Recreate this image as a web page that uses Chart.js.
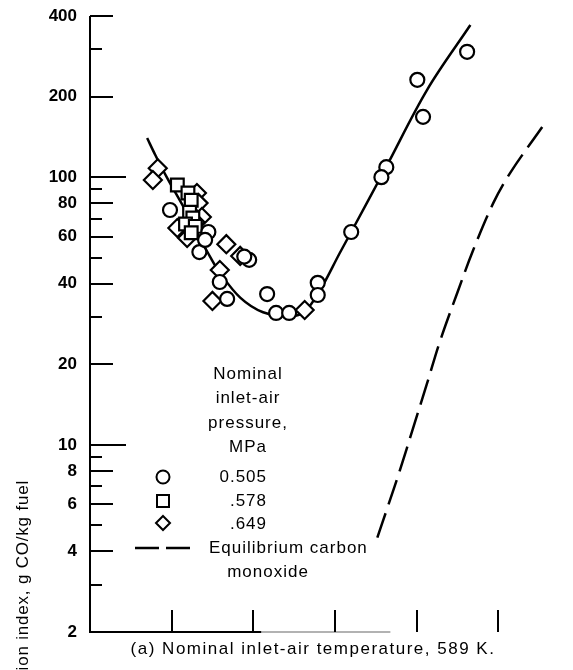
<!DOCTYPE html>
<html>
<head>
<meta charset="utf-8">
<script src="https://cdn.jsdelivr.net/npm/chart.js@4/dist/chart.umd.min.js"></script>
<style>
html, body { margin: 0; padding: 0; background: #fff; }
</style>
</head>
<body>
<canvas id="coChart" width="573" height="670"></canvas>
<script>
// CO emission index, nominal inlet-air temperature 589 K (x axis is unlabelled, tick units)
const p505X = [4.62, 4.01, 4.08, 3.63, 3.57, 3.20, 2.79, 2.79, 2.17, 2.28, 2.44, 1.68, 1.59, 1.95, 1.89, 1.34, 1.45, 1.41, 0.98];
const p505Y = [294, 231, 168, 109, 100, 62.4, 40.3, 36.3, 36.6, 31.1, 31.1, 35.1, 40.6, 49.1, 50.5, 52.5, 62.4, 58.3, 75.4];

const p578X = [1.07, 1.20, 1.24, 1.22, 1.26, 1.17, 1.29, 1.24];
const p578Y = [93.5, 87.3, 82, 74, 70.4, 66.8, 65.5, 62];

const p649X = [0.83, 0.77, 1.31, 1.33, 1.37, 1.29, 1.07, 1.19, 1.67, 1.84, 1.59, 1.50, 2.63];
const p649Y = [108, 97.6, 87.3, 80, 71, 68, 64.6, 59.3, 56.2, 50.8, 45, 34.5, 31.9];

// faired curve through the data
const fitX = [0.70, 0.80, 0.94, 1.16, 1.35, 1.47, 1.59, 1.84, 2.12, 2.45, 2.63, 2.82, 3.06, 3.20, 3.62, 4.13, 4.66];
const fitY = [140, 121, 100, 76, 59, 50.5, 44, 35.5, 31.3, 30.2, 31.5, 37.9, 52.1, 62.4, 108, 212, 370];

// equilibrium carbon monoxide
const eqX = [3.52, 3.65, 3.80, 3.96, 4.13, 4.29, 4.50, 4.69, 4.94, 5.15, 5.54];
const eqY = [4.5, 5.9, 8.1, 11.6, 17, 24.5, 37, 53, 80, 104, 154];

const xTicks = [1, 2, 3, 4, 5];
const yLabels = [2, 4, 6, 8, 10, 20, 40, 60, 80, 100, 200, 400];
const yMinor = [3, 5, 7, 9, 30, 50, 70, 90, 300];

const pts = (xs, ys) => xs.map((x, i) => ({x: x, y: ys[i]}));
const TXT = '17px "Liberation Sans", Arial, sans-serif';

const frame = {
  id: 'frame',
  afterDraw(chart) {
    const {ctx, chartArea: a, scales: {x, y}} = chart;
    ctx.save();
    ctx.strokeStyle = '#000';
    ctx.lineWidth = 2;
    ctx.beginPath();
    ctx.moveTo(a.left, a.top);
    ctx.lineTo(a.left, a.bottom + 1);
    ctx.stroke();

    // inward y ticks
    y.ticks.forEach(t => {
      const py = Math.round(y.getPixelForValue(t.value));
      let len = yLabels.includes(t.value) ? 23 : 12;
      if (t.value === 10 || t.value === 100) len = 36;
      ctx.beginPath();
      ctx.moveTo(a.left, py);
      ctx.lineTo(a.left + len, py);
      ctx.stroke();
    });

    // x axis, faded in the right part as in the scan
    ctx.beginPath();
    ctx.moveTo(a.left, a.bottom);
    ctx.lineTo(x.getPixelForValue(2.1), a.bottom);
    ctx.stroke();
    ctx.strokeStyle = '#999';
    ctx.lineWidth = 1.5;
    ctx.beginPath();
    ctx.moveTo(x.getPixelForValue(2.1), a.bottom);
    ctx.lineTo(x.getPixelForValue(3.68), a.bottom);
    ctx.stroke();
    ctx.strokeStyle = '#000';
    ctx.lineWidth = 2;
    xTicks.forEach(v => {
      const px = Math.round(x.getPixelForValue(v));
      ctx.beginPath();
      ctx.moveTo(px, a.bottom);
      ctx.lineTo(px, a.bottom - 22);
      ctx.stroke();
    });

    // key
    ctx.fillStyle = '#000';
    ctx.font = TXT;
    ctx.letterSpacing = '1px';
    ctx.textBaseline = 'middle';
    ctx.textAlign = 'center';
    ['Nominal', 'inlet-air', 'pressure,', 'MPa'].forEach((s, i) => ctx.fillText(s, 248, 374 + i * 24.5));
    ctx.textAlign = 'right';
    ctx.fillText('0.505', 267, 477);
    ctx.fillText('.578', 267, 501);
    ctx.fillText('.649', 267, 524);
    ctx.textAlign = 'left';
    ctx.fillText('Equilibrium carbon', 209, 548);
    ctx.textAlign = 'center';
    ctx.fillText('monoxide', 268, 572);

    ctx.lineWidth = 2;
    ctx.fillStyle = '#fff';
    ctx.beginPath();
    ctx.arc(163, 477, 6.5, 0, Math.PI * 2);
    ctx.fill(); ctx.stroke();
    ctx.beginPath();
    ctx.rect(157, 495, 12, 12);
    ctx.fill(); ctx.stroke();
    ctx.beginPath();
    ctx.moveTo(163, 516); ctx.lineTo(170, 523); ctx.lineTo(163, 530); ctx.lineTo(156, 523); ctx.closePath();
    ctx.fill(); ctx.stroke();
    ctx.lineWidth = 2.5;
    ctx.setLineDash([24, 7]);
    ctx.beginPath();
    ctx.moveTo(135, 548); ctx.lineTo(192, 548);
    ctx.stroke();
    ctx.setLineDash([]);

    // caption
    ctx.fillStyle = '#000';
    ctx.letterSpacing = '1.5px';
    ctx.textAlign = 'center';
    ctx.fillText('(a) Nominal inlet-air temperature, 589 K.', 313, 649);

    // y title, cut off by the page edge in the scan
    ctx.letterSpacing = '0.8px';
    ctx.translate(23, 480);
    ctx.rotate(-Math.PI / 2);
    ctx.textAlign = 'right';
    ctx.fillText('Carbon monoxide emission index, g CO/kg fuel', 0, 0);
    ctx.restore();
  }
};

new Chart(document.getElementById('coChart'), {
  type: 'scatter',
  data: {
    datasets: [
      {label: '0.505', data: pts(p505X, p505Y), pointStyle: 'circle', pointRadius: 7, order: 1},
      {label: '.578', data: pts(p578X, p578Y), pointStyle: 'rect', pointRadius: 9, order: 1},
      {label: '.649', data: pts(p649X, p649Y), pointStyle: 'rectRot', pointRadius: 9, order: 1},
      {label: 'fit', data: pts(fitX, fitY), showLine: true, pointRadius: 0, borderWidth: 2.5,
       tension: 0.35, order: 2},
      {label: 'Equilibrium carbon monoxide', data: pts(eqX, eqY), showLine: true, pointRadius: 0,
       borderWidth: 2.5, borderDash: [26, 9], tension: 0.35, order: 2}
    ]
  },
  options: {
    responsive: false,
    animation: false,
    devicePixelRatio: 1,
    layout: {padding: {top: 16, right: 2, left: 0, bottom: 0}},
    elements: {
      point: {borderColor: '#000', backgroundColor: '#fff', borderWidth: 2.2},
      line: {borderColor: '#000', backgroundColor: '#000'}
    },
    plugins: {legend: {display: false}, tooltip: {enabled: false}},
    scales: {
      x: {
        type: 'linear', min: 0, max: 5.78,
        ticks: {display: false},
        grid: {display: false, drawTicks: false},
        border: {display: false},
        afterFit: s => { s.height = 38; }
      },
      y: {
        type: 'logarithmic', min: 2, max: 400,
        afterBuildTicks: s => { s.ticks = yLabels.concat(yMinor).sort((a, b) => a - b).map(v => ({value: v})); },
        ticks: {
          autoSkip: false, padding: 13, color: '#000',
          font: {family: '"Liberation Sans", Arial, sans-serif', weight: 'bold', size: 17},
          callback: v => yLabels.includes(v) ? String(v) : ''
        },
        grid: {display: false, drawTicks: false},
        border: {display: false},
        afterFit: s => { s.width = 90; s.paddingTop = 0; s.paddingBottom = 0; }
      }
    }
  },
  plugins: [frame]
});
</script>
</body>
</html>
